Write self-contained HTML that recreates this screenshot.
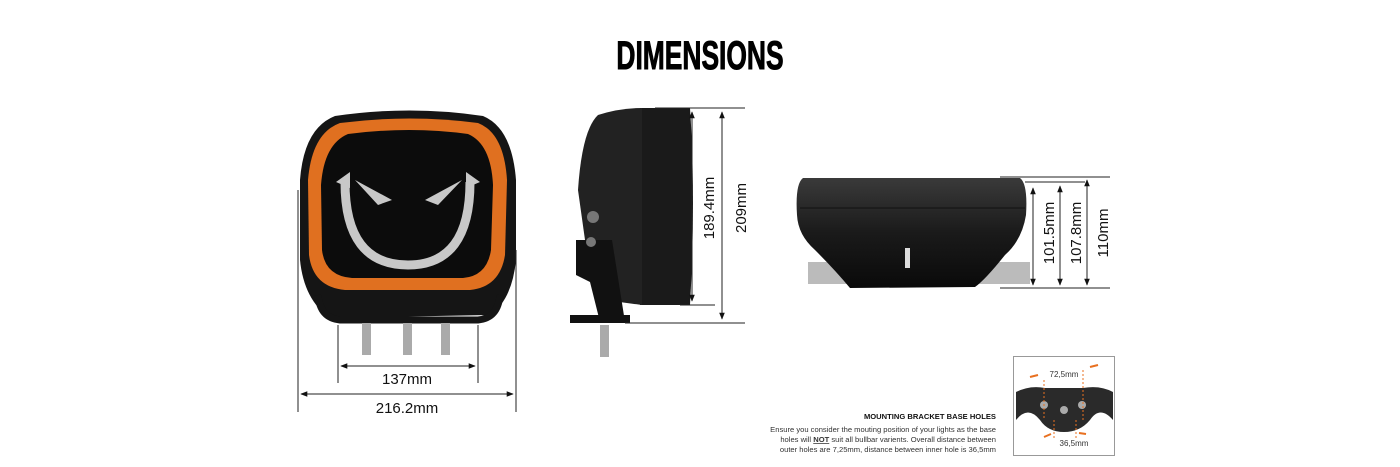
<!DOCTYPE html>
<html><head><meta charset="utf-8"><style>
body{margin:0;background:#fff}
svg{display:block}
text{font-family:"Liberation Sans",sans-serif}
</style></head><body>
<svg width="1400" height="467" viewBox="0 0 1400 467" xmlns="http://www.w3.org/2000/svg">
<defs>
<marker id="a" viewBox="0 0 10 10" refX="9" refY="5" markerWidth="7" markerHeight="7" orient="auto-start-reverse"><path d="M0,1 L10,5 L0,9 z" fill="#111"/></marker>
<linearGradient id="bd" x1="0" y1="0" x2="0" y2="1"><stop offset="0" stop-color="#3a3a3a"/><stop offset="0.5" stop-color="#1a1a1a"/><stop offset="1" stop-color="#0a0a0a"/></linearGradient>
</defs>
<text x="700" y="69" text-anchor="middle" font-size="40" font-weight="bold" transform="translate(700 0) scale(0.66 1) translate(-700 0)" fill="#000" stroke="#000" stroke-width="1">DIMENSIONS</text>

<!-- front view -->
<path d="M335,116 Q410,105 483,116 Q512,128 516,180 L516,260 Q512,300 490,315 L330,318 Q304,300 300,260 L300,180 Q304,128 335,116z" fill="#151515"/>
<path d="M340,123 Q410,114 478,123 Q504,133 507,180 L505,255 Q500,287 470,290 L345,290 Q313,287 309,255 L308,180 Q312,133 340,123z" fill="#e07020"/>
<path d="M348,134 Q410,126 468,134 Q491,144 493,185 L491,250 Q487,276 463,278 L352,278 Q325,276 322,250 L321,185 Q324,144 348,134z" fill="#0c0c0c"/>
<path d="M345,182 Q345,265 408,265 Q470,265 470,182" fill="none" stroke="#c8c8c8" stroke-width="9"/>
<path d="M350,188 L336,182 L350,172z M466,188 L480,182 L466,172z" fill="#c8c8c8"/>
<path d="M355,180 L392,200 L378,205z M462,180 L425,200 L438,205z" fill="#c8c8c8"/>
<path d="M318,295 Q320,318 340,320 L478,320 Q498,318 500,295" fill="none" stroke="#151515" stroke-width="7"/>
<rect x="362" y="323" width="9" height="32" fill="#aaa"/><rect x="403" y="323" width="9" height="32" fill="#aaa"/><rect x="441" y="323" width="9" height="32" fill="#aaa"/>
<g stroke="#222" stroke-width="1" fill="none">
<line x1="298" y1="190" x2="298" y2="412"/><line x1="516" y1="250" x2="516" y2="412"/>
<line x1="338" y1="325" x2="338" y2="383"/><line x1="478" y1="325" x2="478" y2="383"/>
<line x1="301" y1="394" x2="513" y2="394" marker-start="url(#a)" marker-end="url(#a)"/>
<line x1="341" y1="366" x2="475" y2="366" marker-start="url(#a)" marker-end="url(#a)"/>
</g>
<text x="407" y="384" text-anchor="middle" font-size="15" fill="#111">137mm</text>
<text x="407" y="413" text-anchor="middle" font-size="15" fill="#111">216.2mm</text>

<!-- side view -->
<path d="M640,108 L690,108 Q696,200 690,305 L640,305z" fill="#1a1a1a"/>
<path d="M598,115 Q620,108 642,108 L642,305 L605,300 Q592,270 585,240 L578,190 Q582,130 598,115z" fill="#222"/>
<path d="M576,240 L612,240 L625,322 L600,322 L590,282 L576,275z" fill="#111"/>
<rect x="570" y="315" width="60" height="8" fill="#111"/>
<circle cx="593" cy="217" r="6" fill="#777"/><circle cx="591" cy="242" r="5" fill="#777"/>
<rect x="600" y="325" width="9" height="32" fill="#aaa"/>
<g stroke="#222" stroke-width="1" fill="none">
<line x1="655" y1="108" x2="745" y2="108"/><line x1="680" y1="305" x2="715" y2="305"/><line x1="625" y1="323" x2="745" y2="323"/>
<line x1="692" y1="112" x2="692" y2="301" marker-start="url(#a)" marker-end="url(#a)"/>
<line x1="722" y1="112" x2="722" y2="319" marker-start="url(#a)" marker-end="url(#a)"/>
</g>
<text transform="translate(714 208) rotate(-90)" text-anchor="middle" font-size="15" fill="#111">189.4mm</text>
<text transform="translate(746 208) rotate(-90)" text-anchor="middle" font-size="15" fill="#111">209mm</text>

<!-- top view -->
<rect x="808" y="262" width="222" height="22" fill="#bbb"/>
<path d="M803,178 L1020,178 Q1028,184 1026,215 Q1022,240 1005,255 Q985,280 975,287 L850,288 Q835,270 815,250 Q798,235 797,215 Q795,184 803,178z" fill="url(#bd)"/>
<path d="M800,208 L1025,208" stroke="#111" stroke-width="1"/>
<rect x="905" y="248" width="5" height="20" fill="#ddd"/>
<g stroke="#222" stroke-width="1" fill="none">
<line x1="1000" y1="177" x2="1110" y2="177"/><line x1="1025" y1="182" x2="1085" y2="182"/><line x1="1000" y1="288" x2="1110" y2="288"/>
<line x1="1033" y1="188" x2="1033" y2="285" marker-start="url(#a)" marker-end="url(#a)"/>
<line x1="1060" y1="186" x2="1060" y2="285" marker-start="url(#a)" marker-end="url(#a)"/>
<line x1="1087" y1="180" x2="1087" y2="285" marker-start="url(#a)" marker-end="url(#a)"/>
</g>
<text transform="translate(1054 233) rotate(-90)" text-anchor="middle" font-size="15" fill="#111">101.5mm</text>
<text transform="translate(1081 233) rotate(-90)" text-anchor="middle" font-size="15" fill="#111">107.8mm</text>
<text transform="translate(1108 233) rotate(-90)" text-anchor="middle" font-size="15" fill="#111">110mm</text>

<!-- bracket box -->
<rect x="1013.5" y="356.5" width="101" height="99" fill="#fff" stroke="#999"/>
<path d="M1016,392 Q1030,385 1045,388 L1083,388 Q1100,385 1113,392 L1113,420 Q1100,405 1090,420 Q1080,432 1064,432 Q1048,432 1040,420 Q1028,405 1016,420z" fill="#2a2a2a"/>
<circle cx="1044" cy="405" r="4" fill="#aaa"/><circle cx="1064" cy="410" r="4" fill="#aaa"/><circle cx="1082" cy="405" r="4" fill="#aaa"/>
<g stroke="#e87020" stroke-width="1" stroke-dasharray="2,2"><line x1="1044" y1="380" x2="1044" y2="420"/><line x1="1083" y1="370" x2="1083" y2="420"/><line x1="1054" y1="420" x2="1054" y2="440"/><line x1="1076" y1="420" x2="1076" y2="440"/></g>
<g stroke="#e87020" stroke-width="2"><line x1="1030" y1="377" x2="1038" y2="375"/><line x1="1090" y1="367" x2="1098" y2="365"/><line x1="1044" y1="437" x2="1051" y2="434"/><line x1="1079" y1="433" x2="1086" y2="434"/></g>
<text x="1064" y="377" text-anchor="middle" font-size="8" fill="#333">72,5mm</text>
<text x="1074" y="446" text-anchor="middle" font-size="8" fill="#333">36,5mm</text>

<g font-size="7.6" fill="#333" text-anchor="end">
<text x="996" y="419" font-weight="bold" fill="#111">MOUNTING BRACKET BASE HOLES</text>
<text x="996" y="432">Ensure you consider the mouting position of your lights as the base</text>
<text x="996" y="442">holes will <tspan font-weight="bold" text-decoration="underline">NOT</tspan> suit all bullbar varients. Overall distance between</text>
<text x="996" y="452">outer holes are 7,25mm, distance between inner hole is 36,5mm</text>
</g>
</svg>
</body></html>
